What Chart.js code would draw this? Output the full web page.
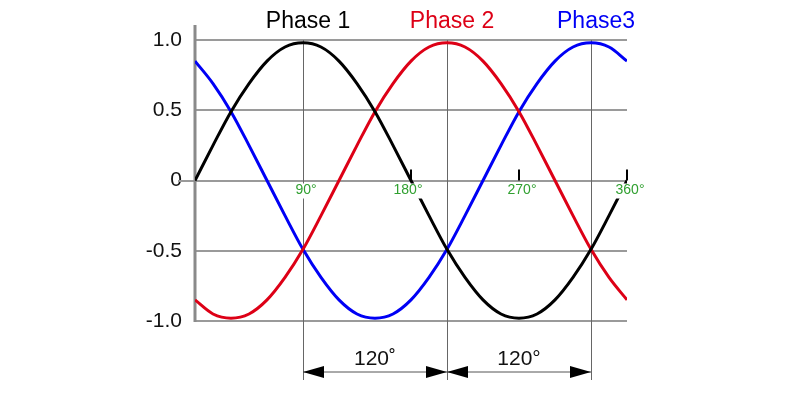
<!DOCTYPE html>
<html>
<head>
<meta charset="utf-8">
<script src="https://cdn.jsdelivr.net/npm/chart.js@4.4.0/dist/chart.umd.min.js"></script>
<style>
  html, body { margin: 0; padding: 0; background: #fff; }
  #wrap { width: 800px; height: 400px; }
</style>
</head>
<body>
<div id="wrap"><canvas id="phases"></canvas></div>
<script>
// angle in degrees, values every 15 degrees
var angles = [0, 15, 30, 45, 60, 75, 90, 105, 120, 135, 150, 165, 180, 195, 210, 225, 240, 255, 270, 285, 300, 315, 330, 345, 360];
var phase1 = [0, 0.25, 0.49, 0.69, 0.85, 0.95, 0.98, 0.95, 0.85, 0.69, 0.49, 0.25, 0, -0.25, -0.49, -0.69, -0.85, -0.95, -0.98, -0.95, -0.85, -0.69, -0.49, -0.25, 0];
var phase2 = [-0.85, -0.95, -0.98, -0.95, -0.85, -0.69, -0.49, -0.25, 0, 0.25, 0.49, 0.69, 0.85, 0.95, 0.98, 0.95, 0.85, 0.69, 0.49, 0.25, 0, -0.25, -0.49, -0.69, -0.85];
var phase3 = [0.85, 0.69, 0.49, 0.25, 0, -0.25, -0.49, -0.69, -0.85, -0.95, -0.98, -0.95, -0.85, -0.69, -0.49, -0.25, 0, 0.25, 0.49, 0.69, 0.85, 0.95, 0.98, 0.95, 0.85];

var seriesNames = ['Phase 1', 'Phase 2', 'Phase3'];
var seriesColors = ['#000000', '#dd0016', '#0000f5'];
var peakAngles = [90, 210, 330];

var yTickValues = [1, 0.5, 0, -0.5, -1];
var yTickLabels = ['1.0', '0.5', '0', '-0.5', '-1.0'];

var degTicks = [90, 180, 270, 360];
var degLabels = ['90°', '180°', '270°', '360°'];

var shiftLabels = ['120˚', '120°'];

var FONT = '"Liberation Sans", Arial, sans-serif';

function toPoints(vals) {
  return angles.map(function (a, i) { return { x: a, y: vals[i] }; });
}

var decor = {
  id: 'decor',
  beforeDatasetsDraw: function (chart) {
    var c = chart.ctx, xs = chart.scales.x, ys = chart.scales.y;
    var left = xs.getPixelForValue(0), right = xs.getPixelForValue(360);
    c.save();
    // horizontal grid
    c.strokeStyle = '#9a9a9a';
    c.lineWidth = 2;
    yTickValues.forEach(function (v) {
      var y = Math.round(ys.getPixelForValue(v));
      c.beginPath();
      c.moveTo(v === 0 ? left - 17 : left, y);
      c.lineTo(right, y);
      c.stroke();
    });
    // vertical lines through the peaks
    c.strokeStyle = '#666';
    c.lineWidth = 1;
    peakAngles.forEach(function (a) {
      var x = Math.round(xs.getPixelForValue(a)) + 0.5;
      c.beginPath();
      c.moveTo(x, ys.getPixelForValue(1));
      c.lineTo(x, 380);
      c.stroke();
    });
    // y axis line
    c.strokeStyle = '#8a8a8a';
    c.lineWidth = 3;
    c.beginPath();
    c.moveTo(left, 25);
    c.lineTo(left, ys.getPixelForValue(-1) + 1);
    c.stroke();
    c.restore();
  },
  afterDatasetsDraw: function (chart) {
    var c = chart.ctx, xs = chart.scales.x, ys = chart.scales.y;
    var y0 = ys.getPixelForValue(0);
    c.save();
    // degree labels (white box hides the curve behind)
    c.font = '14px ' + FONT;
    c.textAlign = 'center';
    c.textBaseline = 'middle';
    degTicks.forEach(function (a, i) {
      var x = xs.getPixelForValue(a) + (a === 180 ? -3 : 3);
      var w = c.measureText(degLabels[i]).width;
      c.fillStyle = '#fff';
      c.fillRect(x - w / 2 - 1, y0 + 3, w + 2, 15);
      c.fillStyle = '#30a030';
      c.fillText(degLabels[i], x, y0 + 10);
      if (a !== 90) {
        c.strokeStyle = '#000';
        c.lineWidth = 2;
        c.beginPath();
        c.moveTo(Math.round(xs.getPixelForValue(a)), y0 - 11);
        c.lineTo(Math.round(xs.getPixelForValue(a)), y0);
        c.stroke();
      }
    });
    // series titles over the peaks
    c.font = '23px ' + FONT;
    c.textBaseline = 'alphabetic';
    peakAngles.forEach(function (a, i) {
      c.fillStyle = seriesColors[i];
      c.fillText(seriesNames[i], xs.getPixelForValue(a) + 5, 28);
    });
    // 120 degree dimension arrows
    var ay = 372;
    for (var k = 0; k < 2; k++) {
      var x1 = xs.getPixelForValue(peakAngles[k]);
      var x2 = xs.getPixelForValue(peakAngles[k + 1]);
      c.strokeStyle = '#555';
      c.lineWidth = 1;
      c.beginPath();
      c.moveTo(x1, ay);
      c.lineTo(x2, ay);
      c.stroke();
      c.fillStyle = '#000';
      c.beginPath();
      c.moveTo(x1, ay);
      c.lineTo(x1 + 21, ay - 6);
      c.lineTo(x1 + 21, ay + 6);
      c.closePath();
      c.fill();
      c.beginPath();
      c.moveTo(x2, ay);
      c.lineTo(x2 - 21, ay - 6);
      c.lineTo(x2 - 21, ay + 6);
      c.closePath();
      c.fill();
      c.font = '21px ' + FONT;
      c.textAlign = 'center';
      c.fillStyle = '#111';
      c.fillText(shiftLabels[k], (x1 + x2) / 2, 365);
    }
    c.restore();
  }
};

var ctx = document.getElementById('phases').getContext('2d');
var myChart = new Chart(ctx, {
  type: 'line',
  data: {
    datasets: seriesNames.map(function (name, i) {
      return {
        label: name,
        data: toPoints([phase1, phase2, phase3][i]),
        borderColor: seriesColors[i],
        borderWidth: 3,
        pointRadius: 0,
        cubicInterpolationMode: 'monotone',
        fill: false
      };
    })
  },
  options: {
    responsive: true,
    maintainAspectRatio: false,
    animation: false,
    layout: { padding: { top: 40, right: 173, bottom: 79, left: 0 } },
    scales: {
      x: { type: 'linear', min: 0, max: 360, display: false },
      y: {
        min: -1,
        max: 1,
        afterFit: function (scale) { scale.width = 195; },
        border: { display: false },
        grid: { display: false, drawTicks: false },
        ticks: {
          stepSize: 0.5,
          padding: 13,
          color: '#111',
          font: { size: 21, family: FONT },
          callback: function (v) {
            var i = yTickValues.indexOf(v);
            return i >= 0 ? yTickLabels[i] : '';
          }
        }
      }
    },
    plugins: {
      legend: { display: false },
      tooltip: { enabled: false }
    }
  },
  plugins: [decor]
});
</script>
</body>
</html>
